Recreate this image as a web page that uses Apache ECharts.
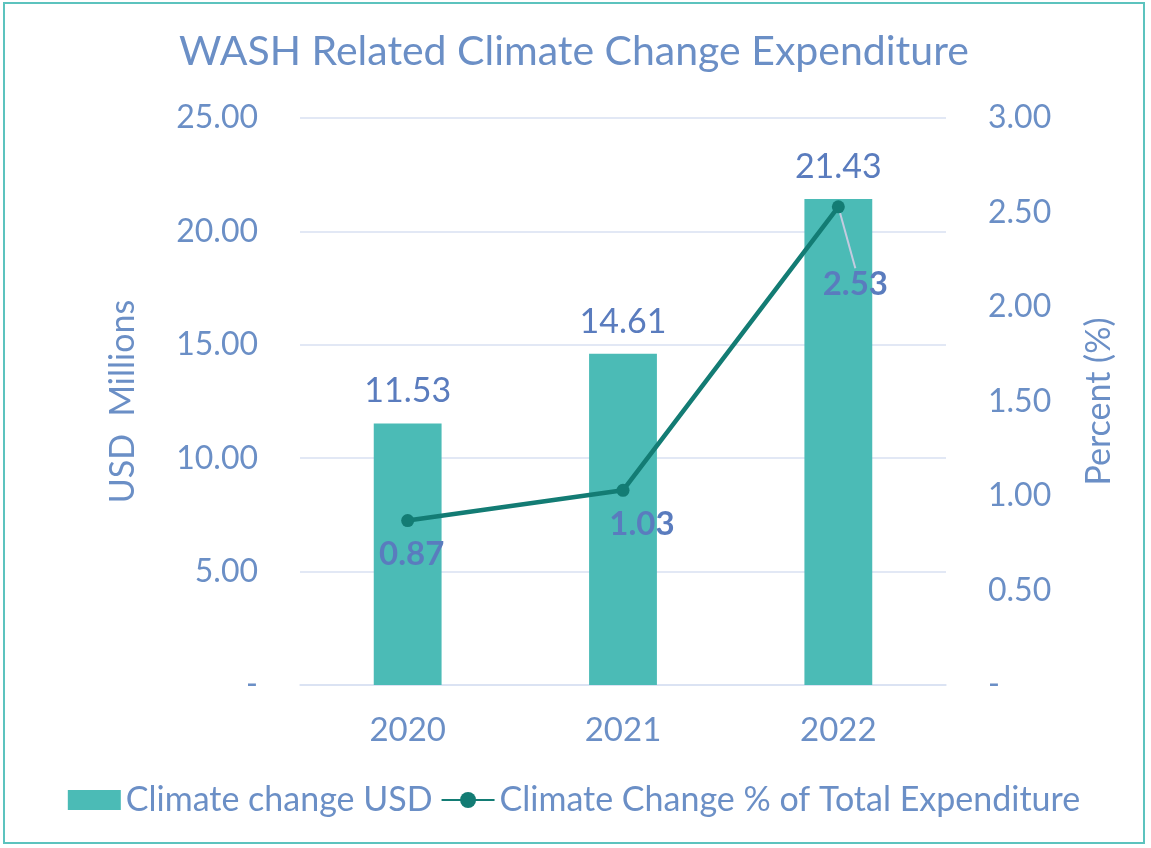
<!DOCTYPE html>
<html>
<head>
<meta charset="utf-8">
<script src="https://cdn.jsdelivr.net/npm/echarts@6/dist/echarts.min.js"></script>
<style>
  html, body { margin: 0; padding: 0; background: #fff; }
  #chart { position: absolute; left: 3px; top: 2px; width: 1142px; height: 842px; border: 2px solid #5cc3be; box-sizing: border-box; }
</style>
</head>
<body>
<div id="chart"></div>
<script>
// data
const years = ['2020', '2021', '2022'];
const usdMillions = [11.53, 14.61, 21.43];
const pctOfTotal = [0.87, 1.03, 2.53];

const textBlue = '#6b8fc6';
const labelBlue = '#5a7cbe';
const font = 'Lato';

const chart = echarts.init(document.getElementById('chart'));

const option = {
  backgroundColor: '#fff',
  textStyle: { fontFamily: font },
  title: {
    text: 'WASH Related Climate Change Expenditure',
    left: 'center',
    top: 22,
    textStyle: { color: textBlue, fontSize: 41, fontWeight: 'normal', fontFamily: font }
  },
  legend: {
    bottom: 20,
    left: 'center',
    itemGap: 8,
    itemWidth: 53,
    itemHeight: 20,
    textStyle: { color: textBlue, fontSize: 34, fontFamily: font },
    data: [
      { name: 'Climate change USD', icon: 'rect' },
      'Climate Change % of Total Expenditure'
    ]
  },
  grid: { left: 295, right: 197, top: 114, bottom: 157 },
  xAxis: {
    type: 'category',
    data: years,
    axisTick: { show: false },
    axisLine: { lineStyle: { color: '#d9e1f2', width: 1.5 } },
    axisLabel: { color: textBlue, fontSize: 33, margin: 29 }
  },
  yAxis: [
    {
      type: 'value',
      min: 0, max: 25, interval: 5,
      name: 'USD  Millions',
      nameLocation: 'middle',
      nameGap: 160,
      nameTextStyle: { color: textBlue, fontSize: 34 },
      axisLabel: {
        color: textBlue, fontSize: 32, margin: 42,
        formatter: v => v === 0 ? '-' : v.toFixed(2)
      },
      splitLine: { lineStyle: { color: '#d9e1f2', width: 1.5 } },
      axisLine: { show: false },
      axisTick: { show: false }
    },
    {
      type: 'value',
      min: 0, max: 3, interval: 0.5,
      name: 'Percent (%)',
      nameLocation: 'middle',
      nameGap: 136,
      nameRotate: 90,
      nameTextStyle: { color: textBlue, fontSize: 34 },
      axisLabel: {
        color: textBlue, fontSize: 32, margin: 42,
        formatter: v => v === 0 ? '-' : v.toFixed(2)
      },
      splitLine: { show: false },
      axisLine: { show: false },
      axisTick: { show: false }
    }
  ],
  series: [
    {
      name: 'Climate change USD',
      type: 'bar',
      yAxisIndex: 0,
      barWidth: '31.5%',
      itemStyle: { color: '#4bbbb6' },
      label: {
        show: true,
        position: 'top',
        distance: 15,
        color: labelBlue,
        fontSize: 34,
        formatter: p => p.value.toFixed(2)
      },
      data: usdMillions
    },
    {
      name: 'Climate Change % of Total Expenditure',
      type: 'line',
      yAxisIndex: 1,
      symbol: 'circle',
      symbolSize: 13,
      lineStyle: { color: '#137c74', width: 4.5 },
      itemStyle: { color: '#137c74' },
      label: {
        show: true,
        position: 'bottom',
        distance: 11,
        color: labelBlue,
        fontSize: 33,
        fontWeight: 'bold',
        formatter: p => p.value.toFixed(2)
      },
      labelLine: { show: true, lineStyle: { color: '#c4cbe0', width: 2 } },
      labelLayout: function (params) {
        if (params.dataIndex === 2) return { dx: 17, dy: 44 };
        if (params.dataIndex === 1) return { dx: 19 };
        return { dx: 4 };
      },
      data: pctOfTotal.map((v, i) => i === 2 ? v : {
        value: v,
        labelLine: { show: false }
      })
    }
  ]
};

chart.setOption(option);
</script>
</body>
</html>
